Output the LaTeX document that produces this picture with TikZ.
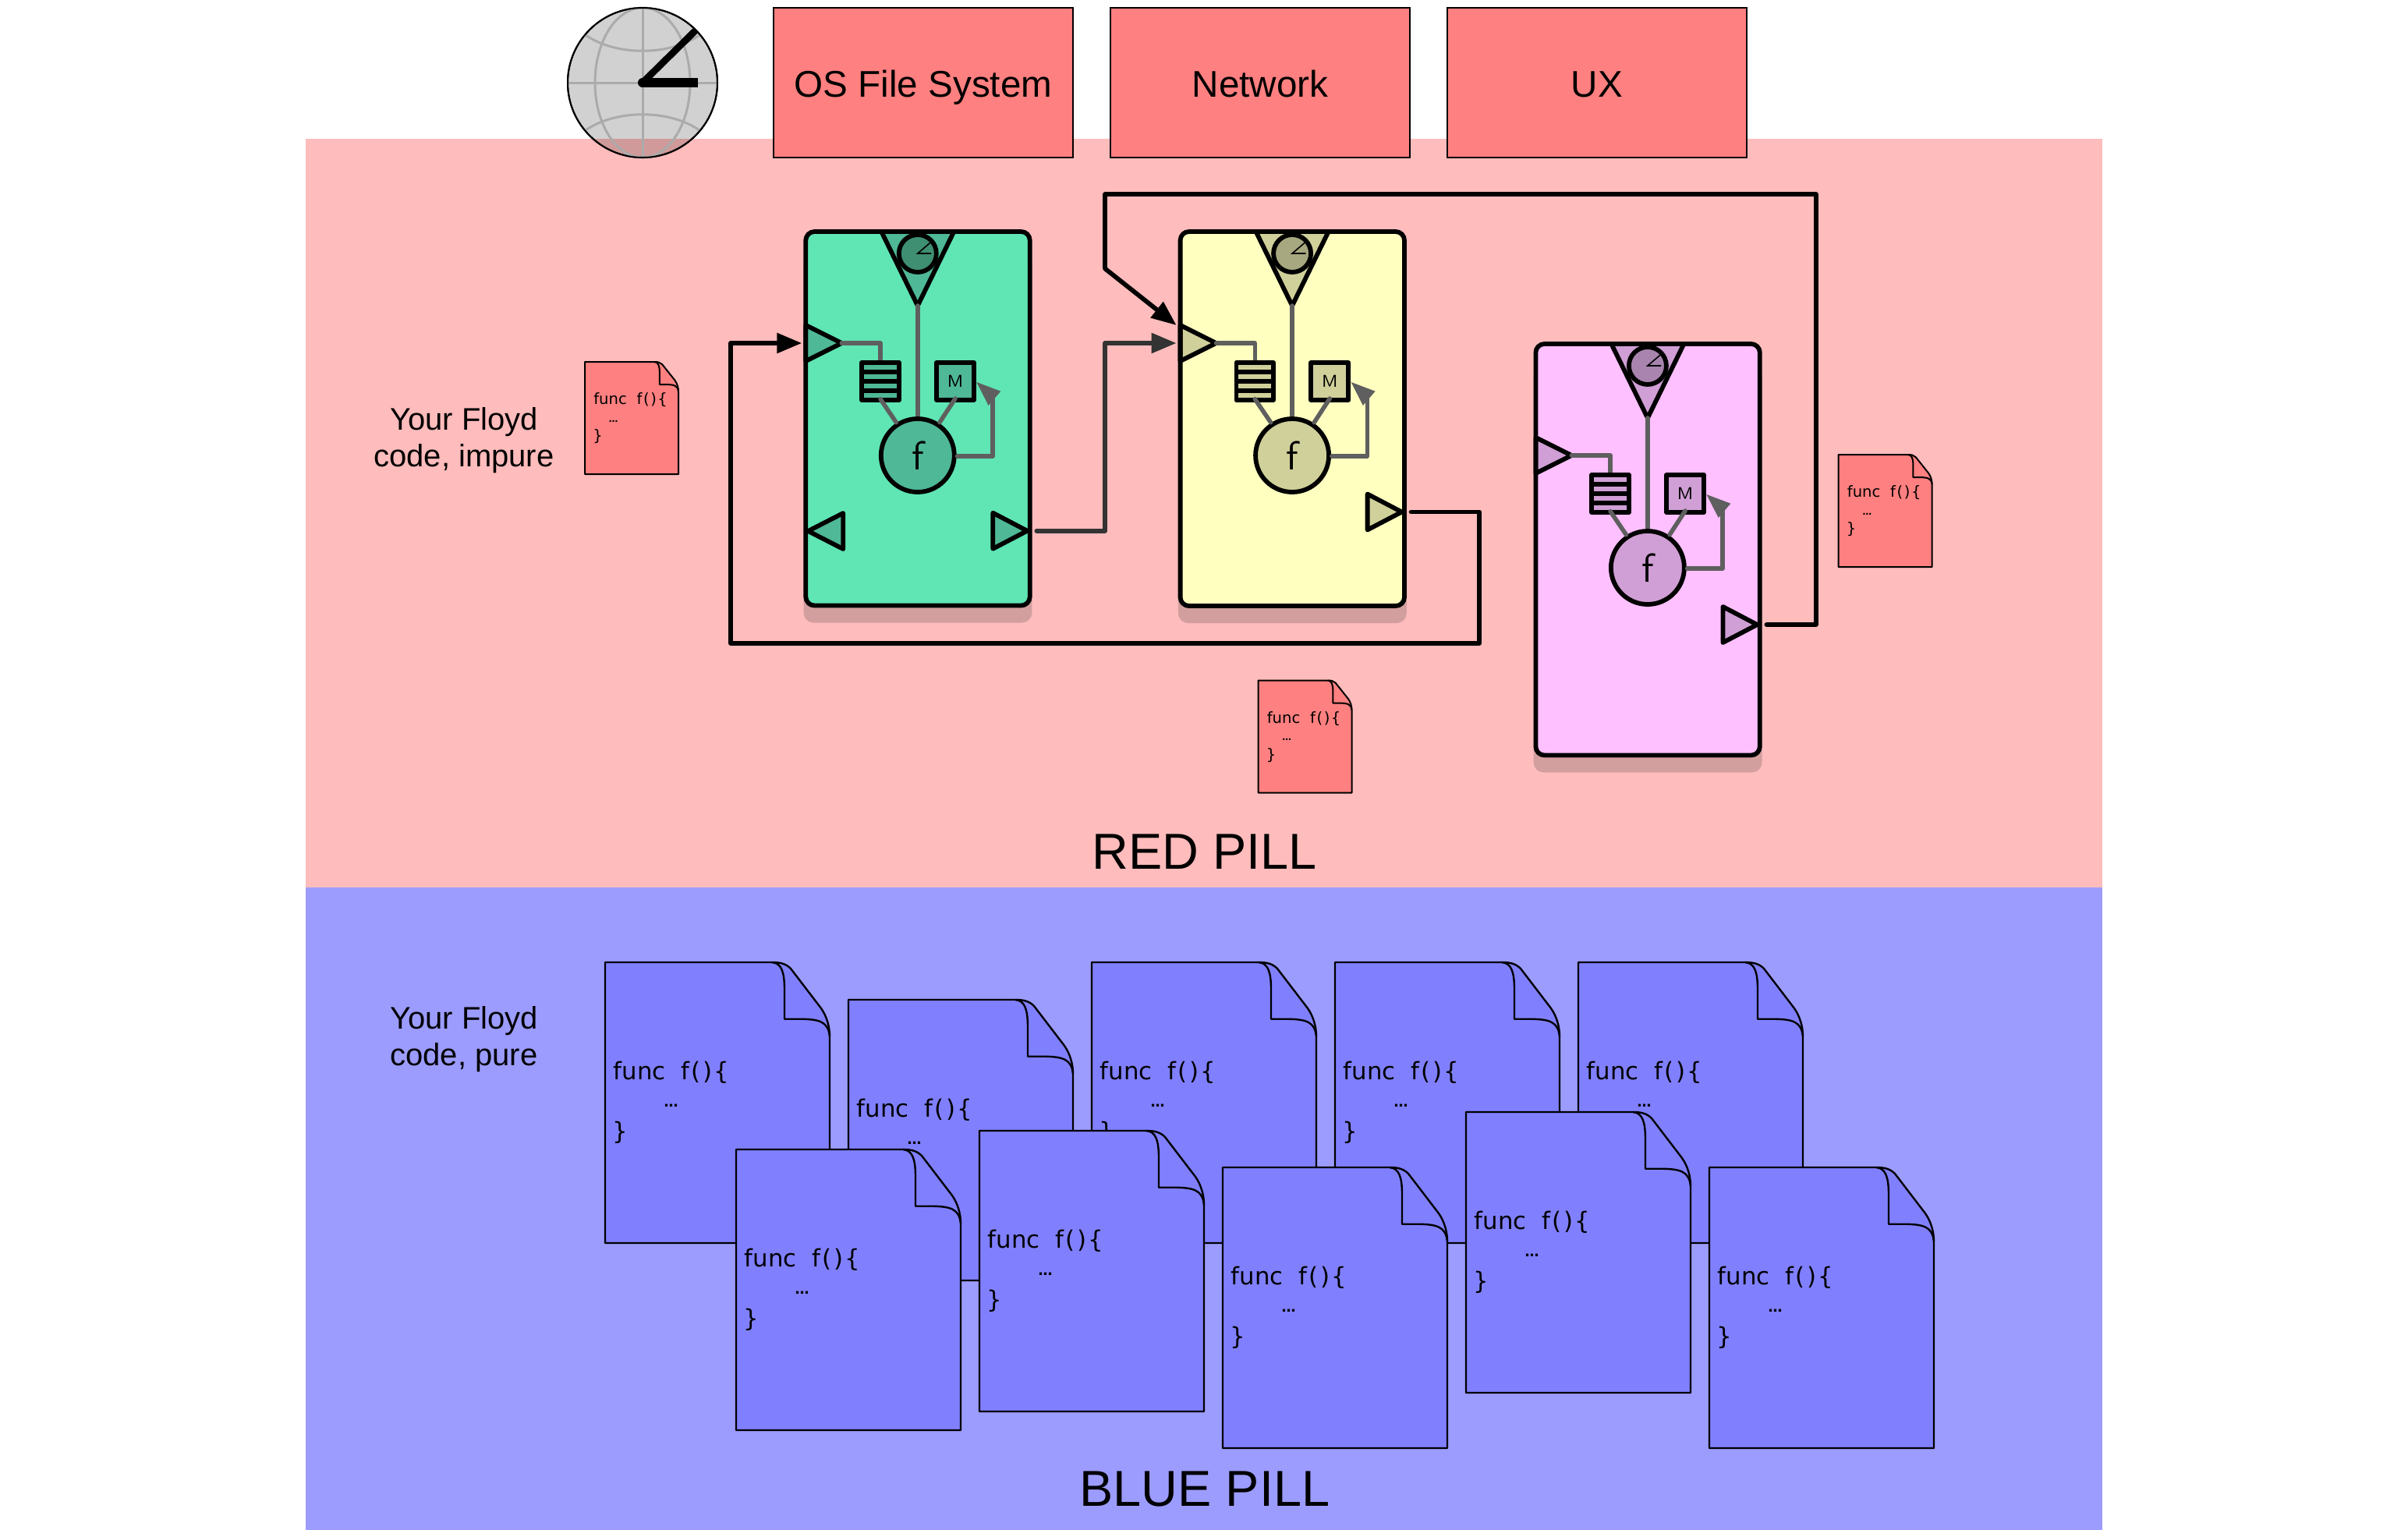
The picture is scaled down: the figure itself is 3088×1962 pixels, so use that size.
\documentclass[tikz,border=0pt]{standalone}
\usepackage{fontspec}
\setmainfont{Liberation Sans}
\newfontfamily\codefont{DejaVu Sans}
\usetikzlibrary{arrows.meta}
\definecolor{redbg}{HTML}{FFBCBC}
\definecolor{bluebg}{HTML}{9C9CFF}
\definecolor{redpaper}{HTML}{FF8080}
\definecolor{bluepaper}{HTML}{8080FF}
\definecolor{shadowc}{HTML}{D39E9E}
\definecolor{wirec}{HTML}{5F5F5F}
\definecolor{darkwire}{HTML}{333333}
\definecolor{gbox}{HTML}{60E5B5}\definecolor{gshape}{HTML}{4FB896}\definecolor{gclock}{HTML}{3F8F72}
\definecolor{ybox}{HTML}{FFFFC0}\definecolor{yshape}{HTML}{D0D09A}\definecolor{yclock}{HTML}{A8A880}
\definecolor{pbox}{HTML}{FFC0FF}\definecolor{pshape}{HTML}{D09FD5}\definecolor{pclock}{HTML}{A884AE}
\tikzset{
  iobox/.style={draw=black,fill=redpaper,line width=0.6pt,minimum width=96pt,minimum height=48pt,inner sep=0pt,outer sep=0pt,text height=9.25pt,text depth=0pt,font=\fontsize{11.9}{14}\selectfont},
  part/.style={draw=black,line width=1.45pt,line join=round,inner sep=0pt,outer sep=0pt},
  innerwire/.style={draw=wirec,line width=1.4pt,line cap=round,line join=round},
  conn/.style={line width=1.45pt,line cap=round,line join=round,-{Triangle[length=8pt,width=6.25pt]}},
  grid/.style={draw=black!33,line width=0.75pt},
  heading/.style={inner sep=0pt,anchor=base,font=\fontsize{16.2}{18}\selectfont},
  side/.style={inner sep=0pt,align=center,font=\fontsize{10}{11.75}\selectfont},
}
% name x y height box shape clock outy extras
\newcommand{\machine}[9]{%
\begin{scope}[shift={(#2,#3)}]
  \fill[shadowc,rounded corners=3.2pt] (-2.75,30) rectangle (290.15,#4+22);
  \fill[#5,rounded corners=2.8pt] (0,0) rectangle (287.4,#4);
  \draw[part,fill=#6] (97,0) -- (190,0) -- (143.5,95) -- cycle;
  \node[part,circle,fill=#7,minimum size=12pt] (#1-clock) at (143.5,28) {};
  \draw[black,line width=0.4pt,line cap=round] (160.5,13.5) -- (143.5,28) -- (160.5,28);
  \draw[part,fill=#6] (0,120) -- (46,143) -- (0,166) -- cycle;
  \draw[part,fill=#6] (240,#8-23) -- (284,#8) -- (240,#8+23) -- cycle;
  #9
  \draw[innerwire] (46,143) -- (95.7,143) -- (95.7,165);
  \draw[innerwire] (143.5,95) -- (143.5,236);
  \node[part,rectangle,fill=#6,minimum width=11.9pt,minimum height=12pt] (#1-queue) at (95.7,192) {};
  \draw[black,line width=1.5pt] (72,180) -- (119.4,180) (72,192) -- (119.4,192) (72,204) -- (119.4,204);
  \node[part,rectangle,fill=#6,minimum width=12pt,minimum height=12pt,font=\sffamily\fontsize{5.5}{6}\selectfont] (#1-mem) at (191.7,192) {M};
  \node[part,circle,fill=#6,minimum size=23.5pt,font=\sffamily\fontsize{13}{14}\selectfont] (#1-f) at (143.5,287) {f};
  \draw[innerwire] (95.7,214.7) -- (116,244.7);
  \draw[innerwire] (191.7,214) -- (171.7,244.7);
  \draw[innerwire] (194.3,288) -- (239.7,288) -- (239.7,212);
  \fill[wirec] (219,193) -- (250,204.7) -- (234.3,223) -- cycle;
  \draw[black,line width=1.45pt,rounded corners=2.8pt] (0,0) rectangle (287.4,#4);
  \coordinate (#1-in) at (-5,143);
  \coordinate (#1-intop) at (-5,120);
  \coordinate (#1-out) at (296,#8);
\end{scope}}
\newcommand{\functext}{func\hspace{0.65em}f\kern.08em(\kern.08em)\kern.08em\{}
% name x y xscale yscale fill linewidth
\newcommand{\papershape}[7]{%
\begin{scope}[shift={(#2,#3)},x=#4*0.25pt,y=-#5*0.25pt]
  \filldraw[fill=#6,draw=black,line width=#7,line join=round]
    (0,0) -- (214,0) .. controls (225,0) and (232,2) .. (238,8) -- (277,59) .. controls (284,69) and (288,82) .. (288,95) -- (288,360) -- (0,360) -- cycle;
  \draw[black,line width=#7,line join=round]
    (214,0) .. controls (226,1) and (230,12) .. (230,35) -- (230,72.7) -- (250,72.7) .. controls (275,73) and (286,76) .. (288,95);
\end{scope}}
\newcommand{\bigpaper}[3]{%
  \papershape{#1}{#2}{#3}{1}{1}{bluepaper}{0.6pt}
  \begin{scope}[shift={(#2,#3)},every node/.style={inner sep=0pt,font=\codefont\fontsize{7.7}{9}\selectfont}]
    \node[anchor=west] (#1-a) at (10,141) {\functext};
    \node (#1-b) at (84.7,184) {\bfseries\fontsize{4.5}{5}\selectfont …};
    \node[anchor=west] (#1-c) at (8.5,218.7) {\}};
  \end{scope}}
\newcommand{\smallpaper}[3]{%
  \papershape{#1}{#2}{#3}{0.4167}{0.4}{redpaper}{0.5pt}
  \begin{scope}[shift={(#2,#3)},every node/.style={inner sep=0pt,font=\codefont\fontsize{4.9}{6}\selectfont}]
    \node[anchor=west] (#1-a) at (10.5,48.7) {\functext};
    \node (#1-b) at (36.7,76) {\bfseries\fontsize{2.9}{3}\selectfont …};
    \node[anchor=west] (#1-c) at (9.5,96) {\}};
  \end{scope}}
\begin{document}
\begin{tikzpicture}[x=0.25pt,y=-0.25pt]
\useasboundingbox (0,0) rectangle (3088,1962);
\fill[white] (0,0) rectangle (3088,1962);
\fill[redbg] (392,178) rectangle (2696,1138);
\fill[bluebg] (392,1138) rectangle (2696,1962);

% wall clock
\node[circle,draw=black,fill=black,fill opacity=0.18,line width=0.5pt,minimum size=48pt,inner sep=0pt,outer sep=0pt] (wall) at (824,106) {};
\draw[grid] (824,10) -- (824,202) (728,106) -- (920,106);
\draw[grid] (824,106) ellipse [x radius=61,y radius=96];
\draw[grid] (751,45) .. controls (790,72) and (858,72) .. (897,45);
\draw[grid] (751,167) .. controls (790,140) and (858,140) .. (897,167);
\draw[black,line width=0.5pt] (wall.center) circle [radius=96];
\fill[black] (wall.center) circle [radius=6];
\draw[black,line width=2.2pt] (wall.center) -- (893,38);
\draw[black,line width=3pt] (wall.center) -- (895,106);

\node[iobox] (os) at (1184,105.8) {OS File System};
\node[iobox] (net) at (1616,105.8) {Network};
\node[iobox] (ux) at (2048,105.8) {UX};

\smallpaper{pa}{750}{464}
\smallpaper{pb}{1613.5}{872.5}
\smallpaper{pc}{2357.6}{583}

\machine{g}{1033.3}{297}{479.5}{gbox}{gshape}{gclock}{383.7}{\draw[part,fill=gshape] (48,361) -- (3,384) -- (48,407) -- cycle;}
\machine{y}{1513.6}{297}{480}{ybox}{yshape}{yclock}{359.5}{}
\machine{p}{1969.4}{441}{527.5}{pbox}{pshape}{pclock}{360}{}

\coordinate (b1) at (1417,560);
\draw[conn,darkwire] (g-out) -| (b1) |- (y-in);
\coordinate (b2) at (1897,825);
\coordinate (b3) at (937,825);
\draw[conn,black] (y-out) -| (b2) -- (b3) |- (g-in);
\coordinate (b4) at (2329,249);
\coordinate (b5) at (1417,249);
\coordinate (b6) at (1417,344.4);
\draw[conn,black] (p-out) -| (b4) -- (b5) -- (b6) -- (y-intop);

\node[side] (t1) at (595,565) {Your Floyd\\code, impure};
\node[side] (t2) at (595,1333) {Your Floyd\\code, pure};
\node[heading] (red) at (1545,1114) {RED PILL};
\node[heading] (blue) at (1545,1931) {BLUE PILL};

\bigpaper{q1}{776}{1234}
\bigpaper{q2}{1088}{1282}
\bigpaper{q3}{1400}{1234}
\bigpaper{q4}{1712}{1234}
\bigpaper{q5}{2024}{1234}
\bigpaper{q6}{944}{1474}
\bigpaper{q7}{1256}{1450}
\bigpaper{q8}{1568}{1497}
\bigpaper{q9}{1880}{1426}
\bigpaper{q10}{2192}{1497}
\end{tikzpicture}
\end{document}
